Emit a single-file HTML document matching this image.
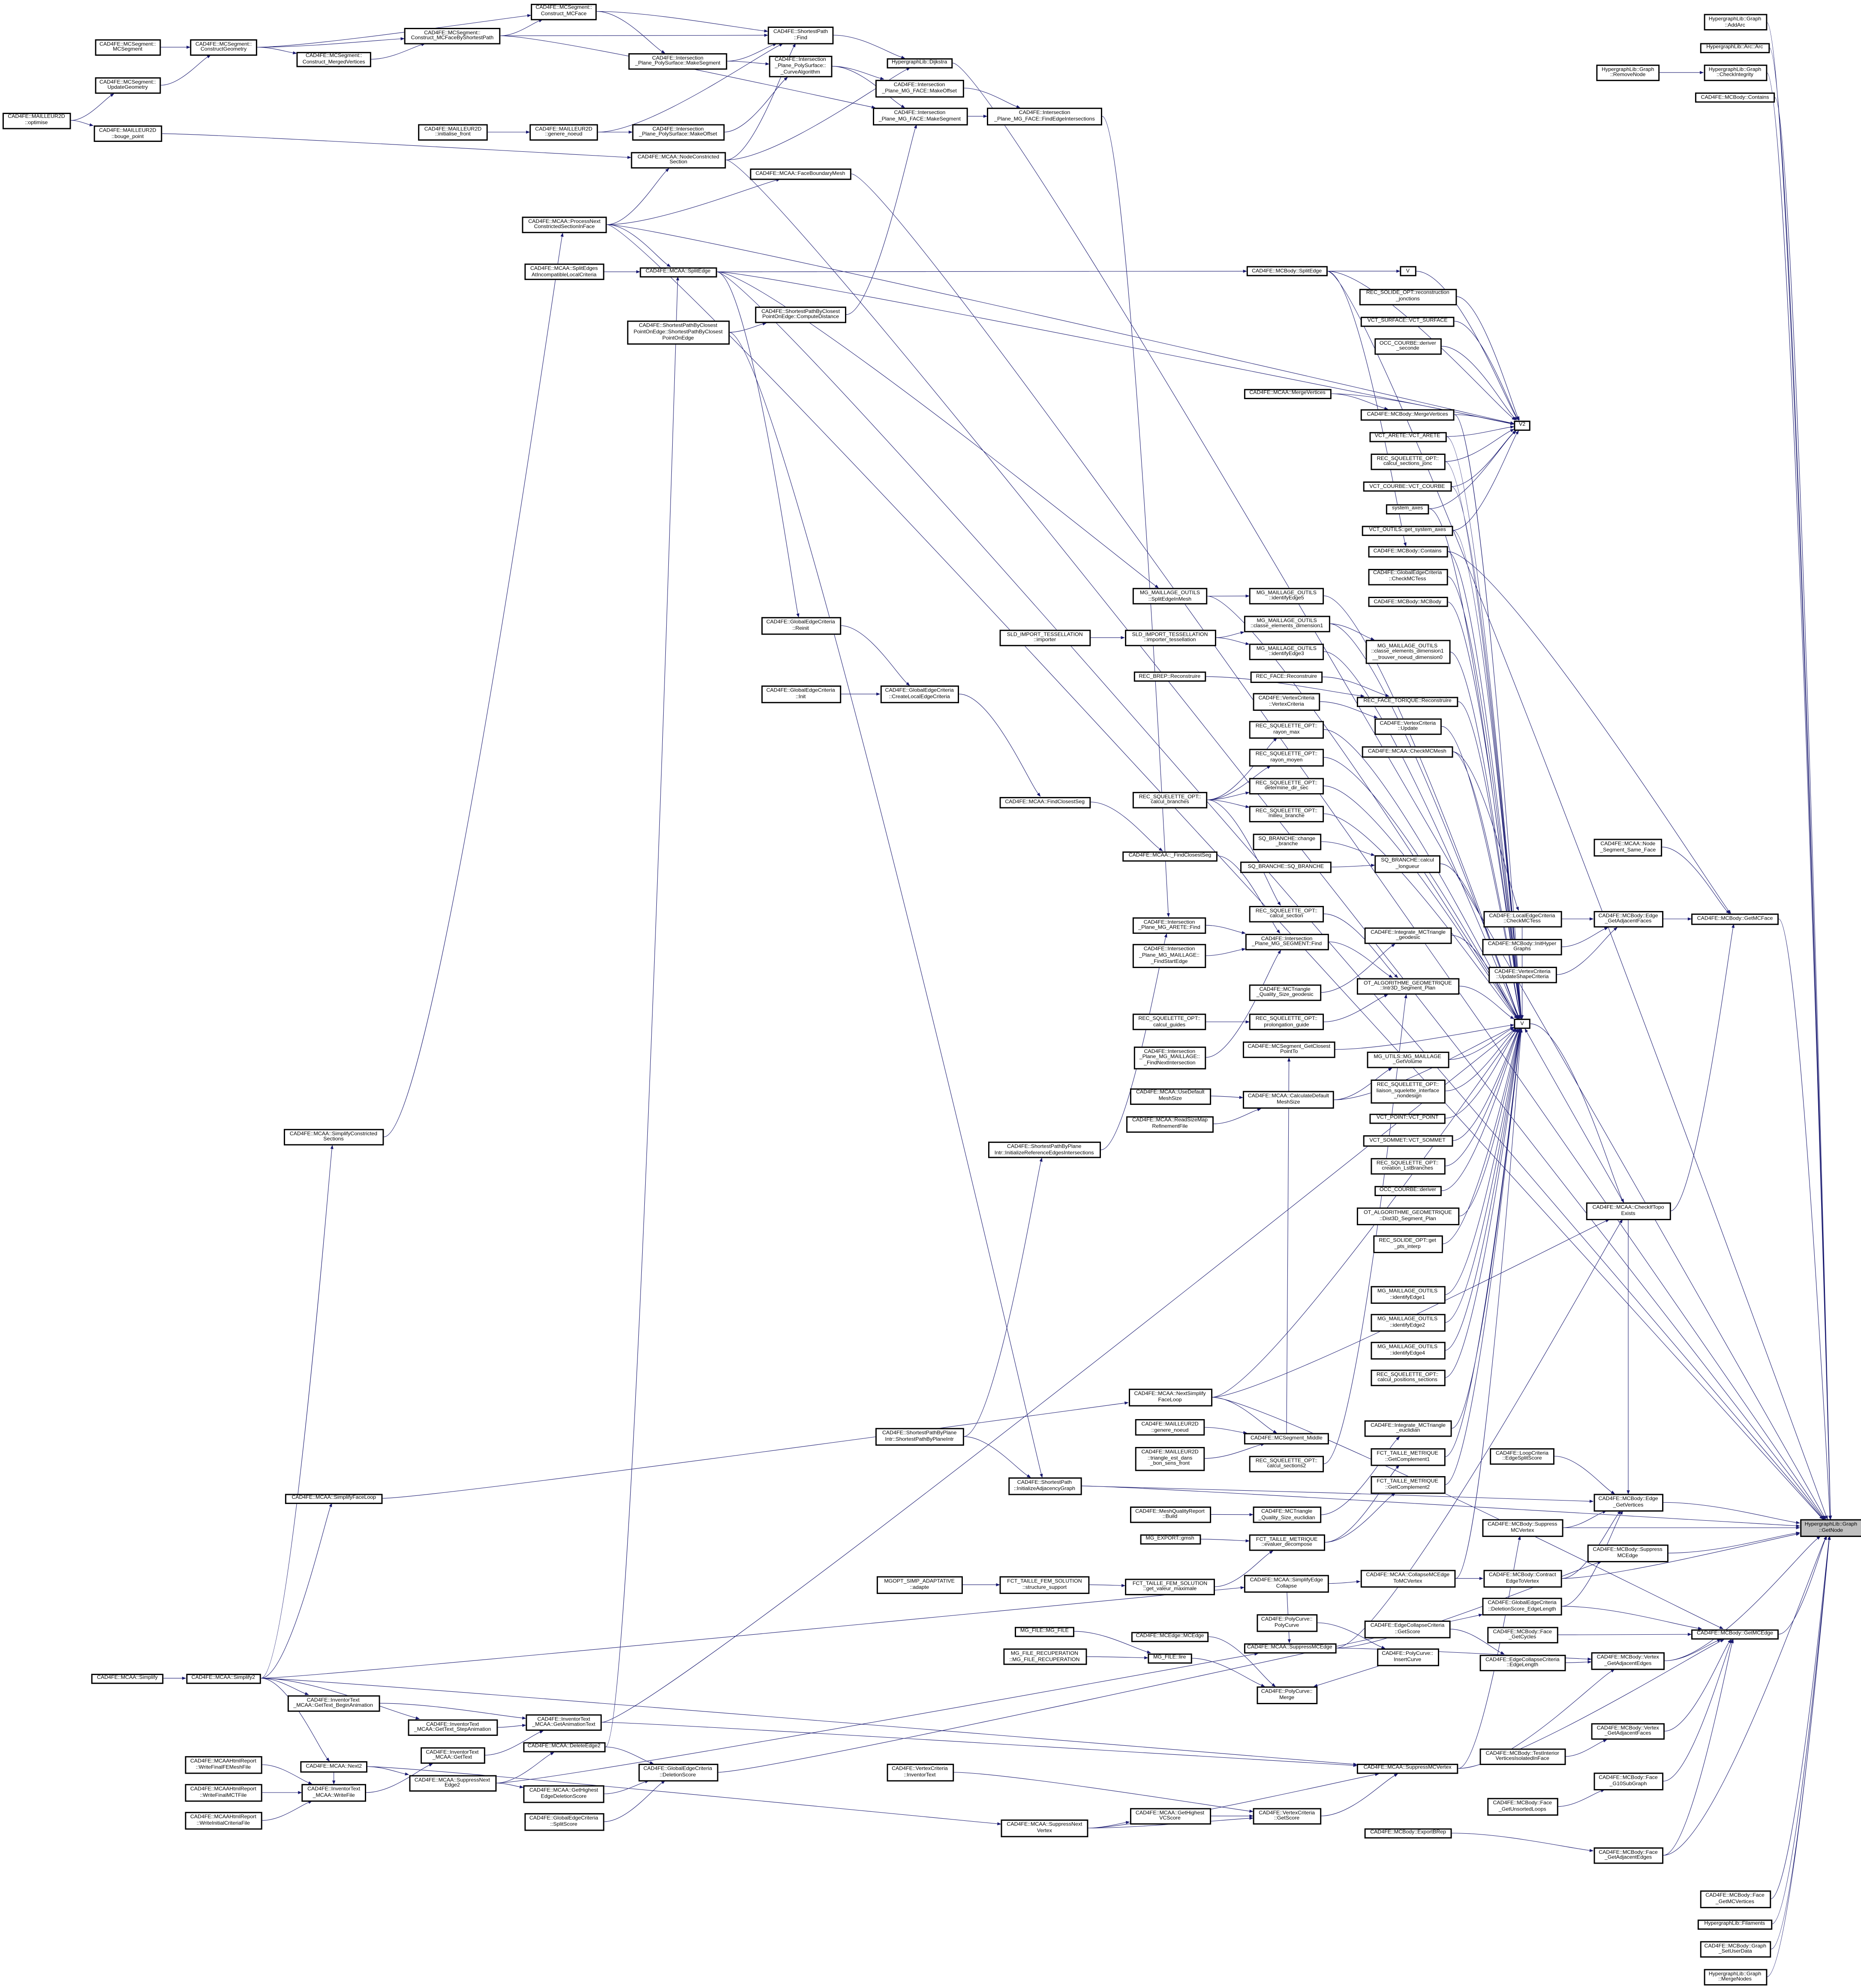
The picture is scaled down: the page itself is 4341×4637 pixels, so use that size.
<!DOCTYPE html>
<html><head><meta charset="utf-8">
<style>
html,body{margin:0;padding:0;background:#fff;width:4341px;height:4637px;overflow:hidden}
#c{position:absolute;left:0;top:0;width:1469px;height:1569px;transform-origin:0 0;transform:scale(2.9551,2.9554)}
#c svg{position:absolute;left:0;top:0}
#c i{position:absolute;box-sizing:border-box;border:0.32px solid #000;background:#fff;font:normal 4.2px/4.6px "Liberation Sans",Arial,sans-serif;color:#000;text-align:center;white-space:nowrap;display:flex;align-items:center;justify-content:center;font-style:normal}
</style></head><body>
<div id="c">
<svg id="sv" width="1469" height="1569" viewBox="0 0 1469 1569"></svg>
<i id="opt" style="left:1.5px;top:88.5px;width:54.5px;height:13px">CAD4FE::MAILLEUR2D<br>::optimise</i>
<i id="mcs" style="left:74.5px;top:31px;width:52.5px;height:12.5px">CAD4FE::MCSegment::<br>MCSegment</i>
<i id="upg" style="left:74.5px;top:60.5px;width:52.5px;height:13.5px">CAD4FE::MCSegment::<br>UpdateGeometry</i>
<i id="bp" style="left:73.5px;top:99px;width:54.5px;height:13px">CAD4FE::MAILLEUR2D<br>::bouge_point</i>
<i id="cg" style="left:150px;top:31px;width:53px;height:12.5px">CAD4FE::MCSegment::<br>ConstructGeometry</i>
<i id="cmv" style="left:234px;top:40.5px;width:59px;height:12.5px">CAD4FE::MCSegment::<br>Construct_MergedVertices</i>
<i id="csp" style="left:319px;top:22px;width:76px;height:12.5px">CAD4FE::MCSegment::<br>Construct_MCFaceByShortestPath</i>
<i id="cmf" style="left:419px;top:2.5px;width:52px;height:13px">CAD4FE::MCSegment::<br>Construct_MCFace</i>
<i id="spf" style="left:606px;top:21px;width:52px;height:13.5px">CAD4FE::ShortestPath<br>::Find</i>
<i id="psms" style="left:496px;top:42px;width:78px;height:12.5px">CAD4FE::Intersection<br>_Plane_PolySurface::MakeSegment</i>
<i id="ca" style="left:607px;top:43.5px;width:49.5px;height:17.5px">CAD4FE::Intersection<br>_Plane_PolySurface::<br>_CurveAlgorithm</i>
<i id="dij" style="left:699.5px;top:46px;width:52.5px;height:7.5px">HypergraphLib::Dijkstra</i>
<i id="mfo" style="left:691px;top:62.5px;width:69.5px;height:14px">CAD4FE::Intersection<br>_Plane_MG_FACE::MakeOffset</i>
<i id="mfs" style="left:688.5px;top:85px;width:75px;height:13.5px">CAD4FE::Intersection<br>_Plane_MG_FACE::MakeSegment</i>
<i id="fei" style="left:779px;top:85px;width:91px;height:13.5px">CAD4FE::Intersection<br>_Plane_MG_FACE::FindEdgeIntersections</i>
<i id="inf" style="left:330px;top:97.5px;width:55px;height:13.5px">CAD4FE::MAILLEUR2D<br>::initialise_front</i>
<i id="gn1" style="left:418px;top:97.5px;width:54px;height:13.5px">CAD4FE::MAILLEUR2D<br>::genere_noeud</i>
<i id="pso" style="left:499px;top:97.5px;width:72.5px;height:13.5px">CAD4FE::Intersection<br>_Plane_PolySurface::MakeOffset</i>
<i id="ncs" style="left:498px;top:119.5px;width:75px;height:13.5px">CAD4FE::MCAA::NodeConstricted<br>Section</i>
<i id="fbm" style="left:591.5px;top:133px;width:80.5px;height:8.5px">CAD4FE::MCAA::FaceBoundaryMesh</i>
<i id="pnc" style="left:412px;top:170.5px;width:67px;height:13.5px">CAD4FE::MCAA::ProcessNext<br>ConstrictedSectionInFace</i>
<i id="sea" style="left:414px;top:208px;width:62.5px;height:13px">CAD4FE::MCAA::SplitEdges<br>AtIncompatibleLocalCriteria</i>
<i id="mse" style="left:505px;top:210.5px;width:60.5px;height:8px">CAD4FE::MCAA::SplitEdge</i>
<i id="cd" style="left:596px;top:241.5px;width:72px;height:13.5px">CAD4FE::ShortestPathByClosest<br>PointOnEdge::ComputeDistance</i>
<i id="spbc" style="left:495px;top:253px;width:80.5px;height:18.5px">CAD4FE::ShortestPathByClosest<br>PointOnEdge::ShortestPathByClosest<br>PointOnEdge</i>
<i id="gre" style="left:600.5px;top:487px;width:63px;height:13.5px">CAD4FE::GlobalEdgeCriteria<br>::Reinit</i>
<i id="gin" style="left:600.5px;top:541px;width:63px;height:13.5px">CAD4FE::GlobalEdgeCriteria<br>::Init</i>
<i id="clec" style="left:694.5px;top:541px;width:62.5px;height:13.5px">CAD4FE::GlobalEdgeCriteria<br>::CreateLocalEdgeCriteria</i>
<i id="fcs" style="left:788.5px;top:628.5px;width:72.5px;height:9px">CAD4FE::MCAA::FindClosestSeg</i>
<i id="_fcs" style="left:886px;top:671.5px;width:75px;height:8px">CAD4FE::MCAA::_FindClosestSeg</i>
<i id="seim" style="left:894px;top:464px;width:59px;height:13px">MG_MAILLAGE_OUTILS<br>::SplitEdgeInMesh</i>
<i id="sli" style="left:789px;top:496.5px;width:71.5px;height:13.5px">SLD_IMPORT_TESSELLATION<br>::importer</i>
<i id="slt" style="left:887.5px;top:496.5px;width:72px;height:13.5px">SLD_IMPORT_TESSELLATION<br>::importer_tessellation</i>
<i id="rbr" style="left:894.5px;top:530px;width:57.5px;height:8px">REC_BREP::Reconstruire</i>
<i id="cbr" style="left:894px;top:624.5px;width:59px;height:13.5px">REC_SQUELETTE_OPT::<br>calcul_branches</i>
<i id="maf" style="left:894px;top:723.5px;width:58px;height:13.5px">CAD4FE::Intersection<br>_Plane_MG_ARETE::Find</i>
<i id="fse" style="left:894px;top:745px;width:58px;height:18.5px">CAD4FE::Intersection<br>_Plane_MG_MAILLAGE::<br>_FindStartEdge</i>
<i id="bse" style="left:984px;top:210px;width:63.5px;height:8px">CAD4FE::MCBody::SplitEdge</i>
<i id="V1" style="left:1105px;top:210px;width:12.5px;height:8px">V</i>
<i id="rj" style="left:1073px;top:227.5px;width:76.5px;height:13px">REC_SOLIDE_OPT::reconstruction<br>_jonctions</i>
<i id="vs" style="left:1074px;top:249.5px;width:74px;height:8px">VCT_SURFACE::VCT_SURFACE</i>
<i id="ds" style="left:1084.5px;top:266.5px;width:53.5px;height:13.5px">OCC_COURBE::deriver<br>_seconde</i>
<i id="amv" style="left:981.5px;top:306.5px;width:69.5px;height:8.5px">CAD4FE::MCAA::MergeVertices</i>
<i id="bmv" style="left:1074px;top:323px;width:74px;height:8.5px">CAD4FE::MCBody::MergeVertices</i>
<i id="V2" style="left:1195px;top:331.5px;width:13px;height:8.5px">V2</i>
<i id="va" style="left:1080.5px;top:340.5px;width:61px;height:8px">VCT_ARETE::VCT_ARETE</i>
<i id="csj" style="left:1082px;top:357.5px;width:58.5px;height:13.5px">REC_SQUELETTE_OPT::<br>calcul_sections_jonc</i>
<i id="vc" style="left:1076px;top:380px;width:69.5px;height:8px">VCT_COURBE::VCT_COURBE</i>
<i id="sa" style="left:1094px;top:397.5px;width:34px;height:8px">system_axes</i>
<i id="gsa" style="left:1075px;top:414.5px;width:72px;height:8px">VCT_OUTILS::get_system_axes</i>
<i id="bc" style="left:1079.5px;top:431px;width:63px;height:8.5px">CAD4FE::MCBody::Contains</i>
<i id="gct" style="left:1079.5px;top:448.5px;width:63px;height:13px">CAD4FE::GlobalEdgeCriteria<br>::CheckMCTess</i>
<i id="bmb" style="left:1079.5px;top:471px;width:63px;height:8px">CAD4FE::MCBody::MCBody</i>
<i id="ie5" style="left:986px;top:463.5px;width:59px;height:13.5px">MG_MAILLAGE_OUTILS<br>::identifyEdge5</i>
<i id="ced" style="left:982px;top:485.5px;width:67.5px;height:13.5px">MG_MAILLAGE_OUTILS<br>::classe_elements_dimension1</i>
<i id="ctn" style="left:1077.5px;top:505px;width:67px;height:19px">MG_MAILLAGE_OUTILS<br>::classe_elements_dimension1<br>__trouver_noeud_dimension0</i>
<i id="ie3" style="left:986px;top:507.5px;width:59px;height:13.5px">MG_MAILLAGE_OUTILS<br>::identifyEdge3</i>
<i id="rfr" style="left:987px;top:530px;width:57px;height:8.5px">REC_FACE::Reconstruire</i>
<i id="rft" style="left:1071px;top:549.5px;width:80px;height:8.5px">REC_FACE_TORIQUE::Reconstruire</i>
<i id="vcv" style="left:989px;top:547px;width:53px;height:13.5px">CAD4FE::VertexCriteria<br>::VertexCriteria</i>
<i id="vcu" style="left:1084.5px;top:566.5px;width:53.5px;height:13.5px">CAD4FE::VertexCriteria<br>::Update</i>
<i id="rmx" style="left:986px;top:569px;width:59px;height:13.5px">REC_SQUELETTE_OPT::<br>rayon_max</i>
<i id="cmm" style="left:1075px;top:589px;width:71.5px;height:8.5px">CAD4FE::MCAA::CheckMCMesh</i>
<i id="rmy" style="left:986px;top:591px;width:59px;height:13.5px">REC_SQUELETTE_OPT::<br>rayon_moyen</i>
<i id="dds" style="left:986px;top:613.5px;width:59px;height:13.5px">REC_SQUELETTE_OPT::<br>determine_dir_sec</i>
<i id="mbr" style="left:986px;top:635.5px;width:59px;height:13.5px">REC_SQUELETTE_OPT::<br>milieu_branche</i>
<i id="chb" style="left:988.5px;top:657.5px;width:54.5px;height:13.5px">SQ_BRANCHE::change<br>_branche</i>
<i id="sqb" style="left:979px;top:680px;width:72px;height:8.5px">SQ_BRANCHE::SQ_BRANCHE</i>
<i id="cl" style="left:1085px;top:675px;width:52px;height:13.5px">SQ_BRANCHE::calcul<br>_longueur</i>
<i id="nss" style="left:1258px;top:661.5px;width:54px;height:14px">CAD4FE::MCAA::Node<br>_Segment_Same_Face</i>
<i id="csec" style="left:986px;top:714.5px;width:59px;height:13.5px">REC_SQUELETTE_OPT::<br>calcul_section</i>
<i id="msf" style="left:983px;top:736.5px;width:65.5px;height:13.5px">CAD4FE::Intersection<br>_Plane_MG_SEGMENT::Find</i>
<i id="ig" style="left:1077px;top:731.5px;width:69px;height:13.5px">CAD4FE::Integrate_MCTriangle<br>_geodesic</i>
<i id="lct" style="left:1170.5px;top:718.5px;width:62px;height:13.5px">CAD4FE::LocalEdgeCriteria<br>::CheckMCTess</i>
<i id="ihg" style="left:1170px;top:740.5px;width:63px;height:13.5px">CAD4FE::MCBody::InitHyper<br>Graphs</i>
<i id="usc" style="left:1175px;top:762.5px;width:53.5px;height:13.5px">CAD4FE::VertexCriteria<br>::UpdateShapeCriteria</i>
<i id="eaf" style="left:1257.5px;top:718.5px;width:55.5px;height:13.5px">CAD4FE::MCBody::Edge<br>_GetAdjacentFaces</i>
<i id="gmf" style="left:1335px;top:721px;width:69px;height:8.5px">CAD4FE::MCBody::GetMCFace</i>
<i id="i3d" style="left:1070.5px;top:771.5px;width:81.5px;height:13.5px">OT_ALGORITHME_GEOMETRIQUE<br>::Intr3D_Segment_Plan</i>
<i id="qsg" style="left:986px;top:776.5px;width:56.5px;height:13.5px">CAD4FE::MCTriangle<br>_Quality_Size_geodesic</i>
<i id="pg" style="left:986px;top:800px;width:59px;height:13px">REC_SQUELETTE_OPT::<br>prolongation_guide</i>
<i id="cgu" style="left:894px;top:800px;width:58px;height:13px">REC_SQUELETTE_OPT::<br>calcul_guides</i>
<i id="V" style="left:1195px;top:804px;width:13px;height:8px">V</i>
<i id="gcp" style="left:981px;top:821.5px;width:73px;height:13.5px">CAD4FE::MCSegment_GetClosest<br>PointTo</i>
<i id="fni" style="left:894.5px;top:825.5px;width:57.5px;height:18px">CAD4FE::Intersection<br>_Plane_MG_MAILLAGE::<br>_FindNextIntersection</i>
<i id="gv" style="left:1078.5px;top:829.5px;width:65px;height:13.5px">MG_UTILS::MG_MAILLAGE<br>_GetVolume</i>
<i id="lsi" style="left:1081.5px;top:851.5px;width:59.5px;height:19px">REC_SQUELETTE_OPT::<br>liaison_squelette_interface<br>_nondesign</i>
<i id="udm" style="left:892px;top:858.5px;width:63.5px;height:13px">CAD4FE::MCAA::UseDefault<br>MeshSize</i>
<i id="cdm" style="left:981px;top:861px;width:72px;height:14px">CAD4FE::MCAA::CalculateDefault<br>MeshSize</i>
<i id="rsm" style="left:889px;top:880.5px;width:69px;height:13px">CAD4FE::MCAA::ReadSizeMap<br>RefinementFile</i>
<i id="vp" style="left:1081px;top:878.5px;width:60px;height:8px">VCT_POINT::VCT_POINT</i>
<i id="vso" style="left:1075.5px;top:896px;width:71px;height:8.5px">VCT_SOMMET::VCT_SOMMET</i>
<i id="clb" style="left:1081.5px;top:913.5px;width:59px;height:13.5px">REC_SQUELETTE_OPT::<br>creation_LstBranches</i>
<i id="od" style="left:1084.5px;top:935.5px;width:53.5px;height:8.5px">OCC_COURBE::deriver</i>
<i id="d3d" style="left:1070.5px;top:953px;width:81.5px;height:13.5px">OT_ALGORITHME_GEOMETRIQUE<br>::Dist3D_Segment_Plan</i>
<i id="gpi" style="left:1083.5px;top:975px;width:55px;height:13.5px">REC_SOLIDE_OPT::get<br>_pts_interp</i>
<i id="cte" style="left:1252px;top:949px;width:66.5px;height:13.5px">CAD4FE::MCAA::CheckIfTopo<br>Exists</i>
<i id="rei" style="left:779.5px;top:901px;width:89.5px;height:13px">CAD4FE::ShortestPathByPlane<br>Intr::InitializeReferenceEdgesIntersections</i>
<i id="ie1" style="left:1081.5px;top:1015px;width:59px;height:13.5px">MG_MAILLAGE_OUTILS<br>::identifyEdge1</i>
<i id="ie2" style="left:1081.5px;top:1037px;width:59px;height:13.5px">MG_MAILLAGE_OUTILS<br>::identifyEdge2</i>
<i id="ie4" style="left:1081.5px;top:1059px;width:59px;height:13.5px">MG_MAILLAGE_OUTILS<br>::identifyEdge4</i>
<i id="cps" style="left:1081.5px;top:1080.5px;width:59px;height:13.5px">REC_SQUELETTE_OPT::<br>calcul_positions_sections</i>
<i id="nsf" style="left:890.5px;top:1096px;width:66px;height:13.5px">CAD4FE::MCAA::NextSimplify<br>FaceLoop</i>
<i id="gn2" style="left:896px;top:1120px;width:55px;height:13px">CAD4FE::MAILLEUR2D<br>::genere_noeud</i>
<i id="ieu" style="left:1077px;top:1120.5px;width:69px;height:13.5px">CAD4FE::Integrate_MCTriangle<br>_euclidian</i>
<i id="msm" style="left:982px;top:1131px;width:67px;height:8.5px">CAD4FE::MCSegment_Middle</i>
<i id="tbs" style="left:896px;top:1141.5px;width:55px;height:19px">CAD4FE::MAILLEUR2D<br>::triangle_est_dans<br>_bon_sens_front</i>
<i id="cs2" style="left:986px;top:1148.5px;width:59px;height:13.5px">REC_SQUELETTE_OPT::<br>calcul_sections2</i>
<i id="gc1" style="left:1081.5px;top:1143px;width:59px;height:13.5px">FCT_TAILLE_METRIQUE<br>::GetComplement1</i>
<i id="gc2" style="left:1081.5px;top:1165px;width:59px;height:13.5px">FCT_TAILLE_METRIQUE<br>::GetComplement2</i>
<i id="lcs" style="left:1176px;top:1142.5px;width:51px;height:13.5px">CAD4FE::LoopCriteria<br>::EdgeSplitScore</i>
<i id="spi" style="left:691px;top:1127px;width:69.5px;height:13.5px">CAD4FE::ShortestPathByPlane<br>Intr::ShortestPathByPlaneIntr</i>
<i id="iag" style="left:795.5px;top:1166px;width:58px;height:13.5px">CAD4FE::ShortestPath<br>::InitializeAdjacencyGraph</i>
<i id="egv" style="left:1257.5px;top:1179px;width:55.5px;height:13.5px">CAD4FE::MCBody::Edge<br>_GetVertices</i>
<i id="GN" style="left:1420.5px;top:1199px;width:49.5px;height:13.5px;background:#bfbfbf">HypergraphLib::Graph<br>::GetNode</i>
<i id="mqr" style="left:891.5px;top:1188.5px;width:64px;height:13.5px">CAD4FE::MeshQualityReport<br>::Build</i>
<i id="qse" style="left:989px;top:1189px;width:53.5px;height:13px">CAD4FE::MCTriangle<br>_Quality_Size_euclidian</i>
<i id="gm" style="left:899.5px;top:1210.5px;width:48px;height:8.5px">MG_EXPORT::gmsh</i>
<i id="evd" style="left:986px;top:1210.5px;width:59.5px;height:13.5px">FCT_TAILLE_METRIQUE<br>::evaluer_decompose</i>
<i id="smv" style="left:1170px;top:1199px;width:63.5px;height:13.5px">CAD4FE::MCBody::Suppress<br>MCVertex</i>
<i id="sme" style="left:1253px;top:1219px;width:63.5px;height:13.5px">CAD4FE::MCBody::Suppress<br>MCEdge</i>
<i id="mg" style="left:692px;top:1244px;width:67.5px;height:13.5px">MGOPT_SIMP_ADAPTATIVE<br>::adapte</i>
<i id="ss" style="left:789px;top:1244px;width:71px;height:13.5px">FCT_TAILLE_FEM_SOLUTION<br>::structure_support</i>
<i id="gvm" style="left:888px;top:1245.5px;width:71px;height:13.5px">FCT_TAILLE_FEM_SOLUTION<br>::get_valeur_maximale</i>
<i id="sec" style="left:982px;top:1243px;width:67px;height:13.5px">CAD4FE::MCAA::SimplifyEdge<br>Collapse</i>
<i id="cmt" style="left:1073.5px;top:1239px;width:75.5px;height:13.5px">CAD4FE::MCAA::CollapseMCEdge<br>ToMCVertex</i>
<i id="cetv" style="left:1170.5px;top:1239px;width:62.5px;height:13.5px">CAD4FE::MCBody::Contract<br>EdgeToVertex</i>
<i id="dsel" style="left:1170px;top:1261px;width:63px;height:13.5px">CAD4FE::GlobalEdgeCriteria<br>::DeletionScore_EdgeLength</i>
<i id="gme" style="left:1335px;top:1285.5px;width:69px;height:8.5px">CAD4FE::MCBody::GetMCEdge</i>
<i id="fgc" style="left:1174px;top:1283.5px;width:55.5px;height:13.5px">CAD4FE::MCBody::Face<br>_GetCycles</i>
<i id="pcp" style="left:991.5px;top:1274px;width:48.5px;height:13.5px">CAD4FE::PolyCurve::<br>PolyCurve</i>
<i id="ecs" style="left:1077px;top:1279px;width:68px;height:13.5px">CAD4FE::EdgeCollapseCriteria<br>::GetScore</i>
<i id="mff" style="left:801px;top:1283.5px;width:47px;height:8px">MG_FILE::MG_FILE</i>
<i id="mce" style="left:893px;top:1287.5px;width:61px;height:8.5px">CAD4FE::MCEdge::MCEdge</i>
<i id="mfr" style="left:791.5px;top:1301px;width:66px;height:13px">MG_FILE_RECUPERATION<br>::MG_FILE_RECUPERATION</i>
<i id="lire" style="left:906px;top:1304.5px;width:34.5px;height:8.5px">MG_FILE::lire</i>
<i id="asme" style="left:981.5px;top:1296.5px;width:73px;height:8.5px">CAD4FE::MCAA::SuppressMCEdge</i>
<i id="ic" style="left:1086.5px;top:1301px;width:49px;height:13.5px">CAD4FE::PolyCurve::<br>InsertCurve</i>
<i id="el" style="left:1168px;top:1305.5px;width:67.5px;height:13.5px">CAD4FE::EdgeCollapseCriteria<br>::EdgeLength</i>
<i id="vae" style="left:1256px;top:1304px;width:58px;height:13.5px">CAD4FE::MCBody::Vertex<br>_GetAdjacentEdges</i>
<i id="mrg" style="left:991.5px;top:1331px;width:48.5px;height:13.5px">CAD4FE::PolyCurve::<br>Merge</i>
<i id="vaf" style="left:1256px;top:1359.5px;width:58px;height:13.5px">CAD4FE::MCBody::Vertex<br>_GetAdjacentFaces</i>
<i id="tiv" style="left:1168px;top:1379.5px;width:67.5px;height:13.5px">CAD4FE::MCBody::TestInterior<br>VerticesIsolatedInFace</i>
<i id="asmv" style="left:1071px;top:1391.5px;width:80px;height:8.5px">CAD4FE::MCAA::SuppressMCVertex</i>
<i id="g10" style="left:1257.5px;top:1399px;width:55.5px;height:13.5px">CAD4FE::MCBody::Face<br>_G10SubGraph</i>
<i id="gul" style="left:1174px;top:1419px;width:55.5px;height:13.5px">CAD4FE::MCBody::Face<br>_GetUnsortedLoops</i>
<i id="vgs" style="left:989px;top:1426.5px;width:53.5px;height:13.5px">CAD4FE::VertexCriteria<br>::GetScore</i>
<i id="ebr" style="left:1077px;top:1442.5px;width:69px;height:8.5px">CAD4FE::MCBody::ExportBRep</i>
<i id="fae" style="left:1257.5px;top:1457.5px;width:55.5px;height:13.5px">CAD4FE::MCBody::Face<br>_GetAdjacentEdges</i>
<i id="fmv" style="left:1341.5px;top:1492px;width:56px;height:13.5px">CAD4FE::MCBody::Face<br>_GetMCVertices</i>
<i id="fil" style="left:1340px;top:1514.5px;width:58.5px;height:8px">HypergraphLib::Filaments</i>
<i id="sud" style="left:1341.5px;top:1531.5px;width:56.5px;height:13.5px">CAD4FE::MCBody::Graph<br>_SetUserData</i>
<i id="mn" style="left:1344.5px;top:1553.5px;width:50px;height:13.5px">HypergraphLib::Graph<br>::MergeNodes</i>
<i id="aa" style="left:1344.5px;top:11px;width:50px;height:13px">HypergraphLib::Graph<br>::AddArc</i>
<i id="arc" style="left:1342px;top:33.5px;width:54.5px;height:8px">HypergraphLib::Arc::Arc</i>
<i id="rn" style="left:1260px;top:50.5px;width:50px;height:13.5px">HypergraphLib::Graph<br>::RemoveNode</i>
<i id="ci" style="left:1344.5px;top:50.5px;width:50px;height:13.5px">HypergraphLib::Graph<br>::CheckIntegrity</i>
<i id="bc2" style="left:1338px;top:73px;width:63px;height:8px">CAD4FE::MCBody::Contains</i>
<i id="scs" style="left:223.5px;top:890.5px;width:79.5px;height:13.5px">CAD4FE::MCAA::SimplifyConstricted<br>Sections</i>
<i id="sfl" style="left:225px;top:1178.5px;width:77px;height:8px">CAD4FE::MCAA::SimplifyFaceLoop</i>
<i id="sim" style="left:72px;top:1320.5px;width:57px;height:8px">CAD4FE::MCAA::Simplify</i>
<i id="s2" style="left:146.5px;top:1320.5px;width:59.5px;height:8px">CAD4FE::MCAA::Simplify2</i>
<i id="gba" style="left:226.5px;top:1337.5px;width:73px;height:13.5px">CAD4FE::InventorText<br>_MCAA::GetText_BeginAnimation</i>
<i id="gsa2" style="left:321.5px;top:1356.5px;width:71.5px;height:13.5px">CAD4FE::InventorText<br>_MCAA::GetText_StepAnimation</i>
<i id="gat" style="left:415px;top:1352.5px;width:60px;height:13.5px">CAD4FE::InventorText<br>_MCAA::GetAnimationText</i>
<i id="de2" style="left:412.5px;top:1374.5px;width:65.5px;height:8.5px">CAD4FE::MCAA::DeleteEdge2</i>
<i id="gt" style="left:331.5px;top:1378.5px;width:51px;height:13.5px">CAD4FE::InventorText<br>_MCAA::GetText</i>
<i id="nx2" style="left:237px;top:1390px;width:53px;height:8.5px">CAD4FE::MCAA::Next2</i>
<i id="sne2" style="left:322.5px;top:1400.5px;width:69px;height:13.5px">CAD4FE::MCAA::SuppressNext<br>Edge2</i>
<i id="ghe" style="left:413px;top:1409px;width:64px;height:13.5px">CAD4FE::MCAA::GetHighest<br>EdgeDeletionScore</i>
<i id="ssc" style="left:413.5px;top:1431px;width:63px;height:13.5px">CAD4FE::GlobalEdgeCriteria<br>::SplitScore</i>
<i id="wfe" style="left:145.5px;top:1386px;width:61.5px;height:13.5px">CAD4FE::MCAAHtmlReport<br>::WriteFinalFEMeshFile</i>
<i id="wfm" style="left:145.5px;top:1408px;width:61.5px;height:13.5px">CAD4FE::MCAAHtmlReport<br>::WriteFinalMCTFile</i>
<i id="wic" style="left:145.5px;top:1430px;width:61.5px;height:13.5px">CAD4FE::MCAAHtmlReport<br>::WriteInitialCriteriaFile</i>
<i id="wf" style="left:238px;top:1408px;width:51px;height:13.5px">CAD4FE::InventorText<br>_MCAA::WriteFile</i>
<i id="dsc" style="left:503.5px;top:1392px;width:63px;height:13.5px">CAD4FE::GlobalEdgeCriteria<br>::DeletionScore</i>
<i id="vit" style="left:699.5px;top:1392px;width:53px;height:13.5px">CAD4FE::VertexCriteria<br>::InventorText</i>
<i id="snv" style="left:790px;top:1436px;width:69px;height:13.5px">CAD4FE::MCAA::SuppressNext<br>Vertex</i>
<i id="ghv" style="left:891.5px;top:1426.5px;width:64px;height:13.5px">CAD4FE::MCAA::GetHighest<br>VCScore</i>
</div>
<script>
(function(){
var E="mcs cg,upg cg,opt upg,opt bp,cg cmf,cg csp,cg cmv,cmv csp,csp cmf,csp spf,csp mfs,cmf spf,cmf psms,psms spf,psms ca,ca mfo,ca mfs,spf dij,dij GN,mfo fei,mfs fei,inf gn1,gn1 pso,gn1 spf,pso ca,bp ncs,ncs spf,ncs dij,ncs GN,pnc ncs,pnc fbm,pnc mse,pnc V2,pnc GN,fbm GN,sea mse,mse bse,mse gre,mse seim,mse GN,mse V2,spbc cd,spbc iag,cd mfs,fei maf,bse V1,bse bc,bse GN,bse V2,V1 V2,rj V2,vs V2,ds V2,amv bmv,amv V2,bmv V2,bmv V,va V2,va V,csj V2,csj V,vc V2,vc V,sa V2,sa V,gsa V2,gsa V,bc V,bc gmf,gct V,bmb V,seim ie5,seim V,sli slt,slt ced,slt ie3,ie5 V,ced ctn,ced V,ctn V,ie3 V,rbr rft,rfr rft,rft V,vcv vcu,vcu V,rmx V,cmm V,cmm lct,rmy V,dds V,mbr V,chb cl,sqb cl,cl V,cbr rmx,cbr rmy,cbr dds,cbr mbr,cbr csec,gre clec,gin clec,clec fcs,fcs _fcs,_fcs msf,maf msf,fse msf,msf i3d,csec i3d,ig V,lct V,lct eaf,ihg V,ihg eaf,usc eaf,eaf gmf,nss gmf,gmf GN,i3d V,qsg ig,pg i3d,cgu pg,gcp V,fni msf,gv V,lsi V,udm cdm,rsm cdm,cdm V,cdm gv,vp V,vso V,clb V,od V,d3d V,gpi V,cte V,cte gmf,cte egv,V cte,ie1 V,ie2 V,ie4 V,cps V,rei maf,nsf cte,nsf V,nsf msm,nsf gme,gn2 msm,tbs msm,msm gcp,ieu V,cs2 i3d,gc1 V,gc2 V,lcs egv,spi rei,spi iag,iag egv,iag GN,egv GN,mqr qse,qse ieu,gm evd,evd gc1,evd gc2,smv egv,smv GN,sme GN,mg ss,ss gvm,gvm evd,sec cmt,sec asme,cmt cetv,cmt V,cetv egv,cetv GN,dsel egv,dsel gme,gme GN,fgc gme,pcp ic,ecs el,el vae,mff lire,mfr lire,lire mrg,mce mrg,asme cte,asme sme,asme vae,ic mrg,vae gme,vae GN,vaf gme,tiv vaf,asmv smv,asmv gme,asmv vae,g10 gme,gul g10,vgs asmv,ebr fae,fae gme,fae GN,fmv GN,fil GN,sud GN,mn GN,aa GN,arc GN,ci GN,bc2 GN,rn ci,sim s2,s2 scs,s2 sfl,s2 gba,s2 gsa2,s2 nx2,s2 sec,s2 asmv,scs pnc,sfl nsf,gba gat,gsa2 gat,gat V,gt gat,nx2 wf,nx2 sne2,nx2 snv,wfe wf,wfm wf,wic wf,wf gt,sne2 de2,sne2 ghe,sne2 asme,de2 dsc,de2 mse,gat asmv,ghe dsc,ssc dsc,dsc dsel,vit vgs,snv ghv,snv vgs,ghv vgs,snv asmv".split(",");
var sv=document.getElementById("sv"),NS="http://www.w3.org/2000/svg",d="",a="";
function B(id){var e=document.getElementById(id);if(!e)return null;var s=e.style;var x=parseFloat(s.left),y=parseFloat(s.top),w=parseFloat(s.width),h=parseFloat(s.height);return{x:x,y:y,w:w,h:h,cx:x+w/2,cy:y+h/2,hw:w/2,hh:h/2};}
function clip(b,dx,dy){var t=Math.min(dx?b.hw/Math.abs(dx):1e9,dy?b.hh/Math.abs(dy):1e9);return[b.cx+dx*t,b.cy+dy*t];}
function f(v){return v.toFixed(2);}
E.forEach(function(p){var q=p.split(" "),s=B(q[0]),t=B(q[1]);if(!s||!t)return;
var p0,c1;
if(t.x>s.x+s.w+4){p0=[s.x+s.w,s.cy];}else{var ddx=t.cx-s.cx,ddy=t.cy-s.cy,LL=Math.sqrt(ddx*ddx+ddy*ddy)||1;p0=clip(s,ddx/LL,ddy/LL);}
var dx=t.cx-p0[0],dy=t.cy-p0[1],L=Math.sqrt(dx*dx+dy*dy)||1;dx/=L;dy/=L;
var p1=clip(t,-dx,-dy);
var ex=p1[0]-dx*2.6,ey=p1[1]-dy*2.6;
if(t.x>s.x+s.w+4){var k=Math.min(40,(ex-p0[0])*0.4);d+="M"+f(p0[0])+" "+f(p0[1])+"C"+f(p0[0]+k)+" "+f(p0[1])+" "+f(ex-dx*k*0.5)+" "+f(ey-dy*k*0.5)+" "+f(ex)+" "+f(ey);}
else d+="M"+f(p0[0])+" "+f(p0[1])+"L"+f(ex)+" "+f(ey);
var nx=-dy*1.0,ny=dx*1.0;
a+="M"+f(p1[0])+" "+f(p1[1])+"L"+f(ex+nx)+" "+f(ey+ny)+"L"+f(ex-nx)+" "+f(ey-ny)+"Z";});
var P=document.createElementNS(NS,"path");P.setAttribute("d",d);P.setAttribute("stroke","#191970");P.setAttribute("stroke-width","0.36");P.setAttribute("fill","none");sv.appendChild(P);
var A=document.createElementNS(NS,"path");A.setAttribute("d",a);A.setAttribute("fill","#191970");A.setAttribute("stroke","#191970");A.setAttribute("stroke-width","0.3");sv.appendChild(A);
})();
</script>
</body></html>
